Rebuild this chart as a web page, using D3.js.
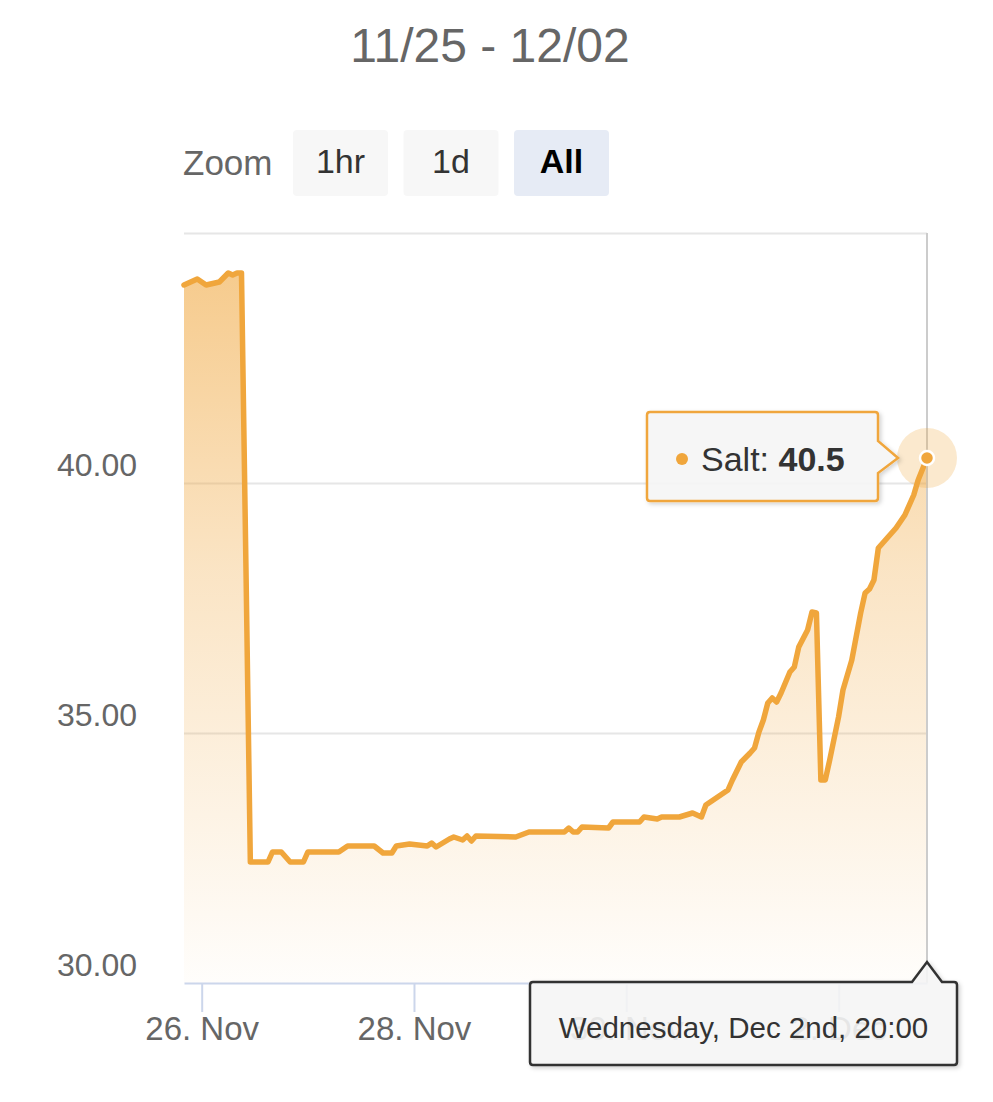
<!DOCTYPE html>
<html>
<head>
<meta charset="utf-8">
<script src="https://cdn.jsdelivr.net/npm/d3@7"></script>
<style>
  body { margin: 0; background: #fff; }
  svg { display: block; font-family: "Liberation Sans", Arial, Helvetica, sans-serif; }
</style>
</head>
<body>
<div id="chart"></div>
<script>
// salt readings, hours after the first reading
const startTime = "2020-11-25 20:00";
const hours = [0, 3, 5, 8, 10, 11, 12, 13, 14, 15, 19, 20, 22, 24, 27, 28, 35, 37, 43, 45,
  47, 48, 51, 55, 56, 57, 60, 61, 63, 64, 65, 66, 75, 78, 86, 87, 88, 89, 90, 96,
  97, 103, 104, 107, 108, 112, 115, 117, 118, 123, 124, 126, 128, 129, 130, 131, 132, 133, 134, 135,
  137, 138, 139, 141, 142, 143, 144, 145, 146, 148, 149, 151, 153, 154, 155, 156, 157, 159, 161, 163,
  165, 166, 168];
const salt = [43.96, 44.08, 43.96, 44.02, 44.2, 44.16, 44.2, 44.2, 38.36, 32.42, 32.42, 32.62, 32.62, 32.42, 32.42, 32.62, 32.62, 32.74, 32.74, 32.6,
  32.6, 32.74, 32.78, 32.74, 32.8, 32.72, 32.88, 32.92, 32.86, 32.94, 32.84, 32.94, 32.92, 33.02, 33.02, 33.1, 33.02, 33.02, 33.12, 33.1,
  33.22, 33.22, 33.32, 33.28, 33.32, 33.32, 33.4, 33.32, 33.56, 33.86, 34.06, 34.42, 34.6, 34.7, 35.02, 35.26, 35.6, 35.7, 35.62, 35.8,
  36.22, 36.32, 36.72, 37.06, 37.42, 37.4, 34.06, 34.06, 34.46, 35.32, 35.86, 36.46, 37.4, 37.8, 37.88, 38.06, 38.7, 38.9, 39.1, 39.36,
  39.76, 40.06, 40.5];
const xTickDates = ["2020-11-26", "2020-11-28", "2020-11-30", "2020-12-02"];
const yTicks = [30, 35, 40, 45];
const zoomButtons = ["1hr", "1d", "All"];
const title = "11/25 - 12/02";

const width = 993, height = 1102;
const lineColor = "#f0a63c";

const parseStart = d3.timeParse("%Y-%m-%d %H:%M");
const parseDay = d3.timeParse("%Y-%m-%d");
const t0 = parseStart(startTime);
const data = hours.map((h, i) => ({ date: d3.timeHour.offset(t0, h), value: salt[i] }));

const x = d3.scaleTime()
  .domain(d3.extent(data, d => d.date))
  .range([184, 927]);
const y = d3.scaleLinear()
  .domain([30, 45])
  .range([983, 233]);

const svg = d3.select("#chart").append("svg")
  .attr("width", width)
  .attr("height", height);

const defs = svg.append("defs");
const grad = defs.append("linearGradient")
  .attr("id", "fillGrad")
  .attr("gradientUnits", "userSpaceOnUse")
  .attr("x1", 0).attr("x2", 0)
  .attr("y1", y(45)).attr("y2", y(30));
grad.append("stop").attr("offset", 0).attr("stop-color", lineColor).attr("stop-opacity", 0.62);
grad.append("stop").attr("offset", 0.45).attr("stop-color", lineColor).attr("stop-opacity", 0.3);
grad.append("stop").attr("offset", 1).attr("stop-color", lineColor).attr("stop-opacity", 0.02);

const shadow = defs.append("filter").attr("id", "shadow")
  .attr("x", "-10%").attr("y", "-10%").attr("width", "130%").attr("height", "140%");
shadow.append("feDropShadow")
  .attr("dx", 2).attr("dy", 2).attr("stdDeviation", 2)
  .attr("flood-color", "#000").attr("flood-opacity", 0.18);

// title
svg.append("text")
  .attr("x", 490).attr("y", 62)
  .attr("text-anchor", "middle")
  .attr("fill", "#666")
  .style("font-size", "48px")
  .text(title);

// zoom buttons
svg.append("text")
  .attr("x", 183).attr("y", 175)
  .attr("fill", "#666")
  .style("font-size", "35px")
  .text("Zoom");

const btn = svg.append("g").selectAll("g")
  .data(zoomButtons)
  .join("g")
  .attr("transform", (d, i) => `translate(${293 + i * 110.5},130)`);
btn.append("rect")
  .attr("width", 95).attr("height", 66).attr("rx", 4)
  .attr("fill", d => d == "All" ? "#e6ebf5" : "#f7f7f7");
btn.append("text")
  .attr("x", 47.5).attr("y", 43)
  .attr("text-anchor", "middle")
  .attr("fill", d => d == "All" ? "#000" : "#333")
  .style("font-size", "34px")
  .style("font-weight", d => d == "All" ? "bold" : "normal")
  .text(d => d);

// y grid + labels
const yAxis = svg.append("g")
  .attr("transform", `translate(${x.range()[0]},0)`)
  .call(d3.axisLeft(y)
    .tickValues(yTicks)
    .tickSize(-(x.range()[1] - x.range()[0]))
    .tickPadding(47)
    .tickFormat(d => d < 45 ? d3.format(".2f")(d) : ""));
yAxis.select(".domain").remove();
yAxis.selectAll(".tick line")
  .attr("stroke", d => d == 30 ? "none" : "#e6e6e6")
  .attr("stroke-width", 2);
yAxis.selectAll(".tick text")
  .attr("dy", -8)
  .attr("fill", "#666")
  .style("font-size", "32px")
  .style("font-family", "inherit");

// area + line
svg.append("path")
  .datum(data)
  .attr("fill", "url(#fillGrad)")
  .attr("d", d3.area().x(d => x(d.date)).y0(y(30)).y1(d => y(d.value)));

svg.append("path")
  .datum(data)
  .attr("fill", "none")
  .attr("stroke", lineColor)
  .attr("stroke-width", 5.5)
  .attr("stroke-linejoin", "round")
  .attr("stroke-linecap", "round")
  .attr("d", d3.line().x(d => x(d.date)).y(d => y(d.value)));

// crosshair
const last = data[data.length - 1];
const px = x(last.date), py = y(last.value);
svg.append("line")
  .attr("x1", px).attr("x2", px)
  .attr("y1", y(45)).attr("y2", y(30))
  .attr("stroke", "#cccccc")
  .attr("stroke-width", 2);

// x axis
const xAxis = svg.append("g")
  .attr("transform", `translate(0,${y(30)})`)
  .call(d3.axisBottom(x)
    .tickValues(xTickDates.map(parseDay))
    .tickFormat(d3.timeFormat("%-d. %b"))
    .tickSize(29)
    .tickSizeOuter(0)
    .tickPadding(5));
xAxis.select(".domain").attr("stroke", "#ccd6eb").attr("stroke-width", 2);
xAxis.selectAll(".tick line").attr("stroke", "#ccd6eb").attr("stroke-width", 2);
xAxis.selectAll(".tick text")
  .attr("fill", "#666")
  .style("font-size", "33px")
  .style("font-family", "inherit");

// hover point
svg.append("circle")
  .attr("cx", px).attr("cy", py).attr("r", 30)
  .attr("fill", lineColor).attr("fill-opacity", 0.25);
svg.append("circle")
  .attr("cx", px).attr("cy", py).attr("r", 7)
  .attr("fill", lineColor)
  .attr("stroke", "#fff").attr("stroke-width", 2.5);

// value tooltip
function boxPath(l, t, r, b, rad, extra) {
  return `M${l + rad},${t} ` + (extra.top || "") + `H${r - rad} Q${r},${t} ${r},${t + rad} ` +
    (extra.right || "") + `V${b - rad} Q${r},${b} ${r - rad},${b} H${l + rad} Q${l},${b} ${l},${b - rad} ` +
    `V${t + rad} Q${l},${t} ${l + rad},${t} Z`;
}

const tip1 = svg.append("g");
{
  const l = px - 280, r = px - 49, t = py - 46, b = py + 43;
  tip1.append("path")
    .attr("d", boxPath(l, t, r, b, 3, { right: `V${py - 17} L${px - 29},${py} L${r},${py + 15} ` }))
    .attr("fill", "rgba(247,247,247,0.9)")
    .attr("stroke", lineColor)
    .attr("stroke-width", 2.5)
    .attr("filter", "url(#shadow)");
  tip1.append("circle")
    .attr("cx", l + 35).attr("cy", py + 1).attr("r", 6)
    .attr("fill", lineColor);
  const tt = tip1.append("text")
    .attr("x", l + 54).attr("y", py + 13)
    .attr("fill", "#333")
    .style("font-size", "34px");
  tt.append("tspan").text("Salt: ");
  tt.append("tspan").style("font-weight", "bold").text(d3.format(".1f")(last.value));
}

// date tooltip on axis (covers the later date labels, as in the source)
const tip2 = svg.append("g");
{
  const l = 530, r = 957, t = y(30) - 1, b = 1065;
  tip2.append("path")
    .attr("d", boxPath(l, t, r, b, 3, { top: `H${px - 15} L${px},${t - 20} L${px + 15},${t} ` }))
    .attr("fill", "rgba(247,247,247,0.88)")
    .attr("stroke", "#333")
    .attr("stroke-width", 2.5)
    .attr("filter", "url(#shadow)");
  tip2.append("text")
    .attr("x", (l + r) / 2).attr("y", 1038)
    .attr("text-anchor", "middle")
    .attr("fill", "#333")
    .style("font-size", "29.5px")
    .text("Wednesday, Dec 2nd, 20:00");
}
</script>
</body>
</html>
